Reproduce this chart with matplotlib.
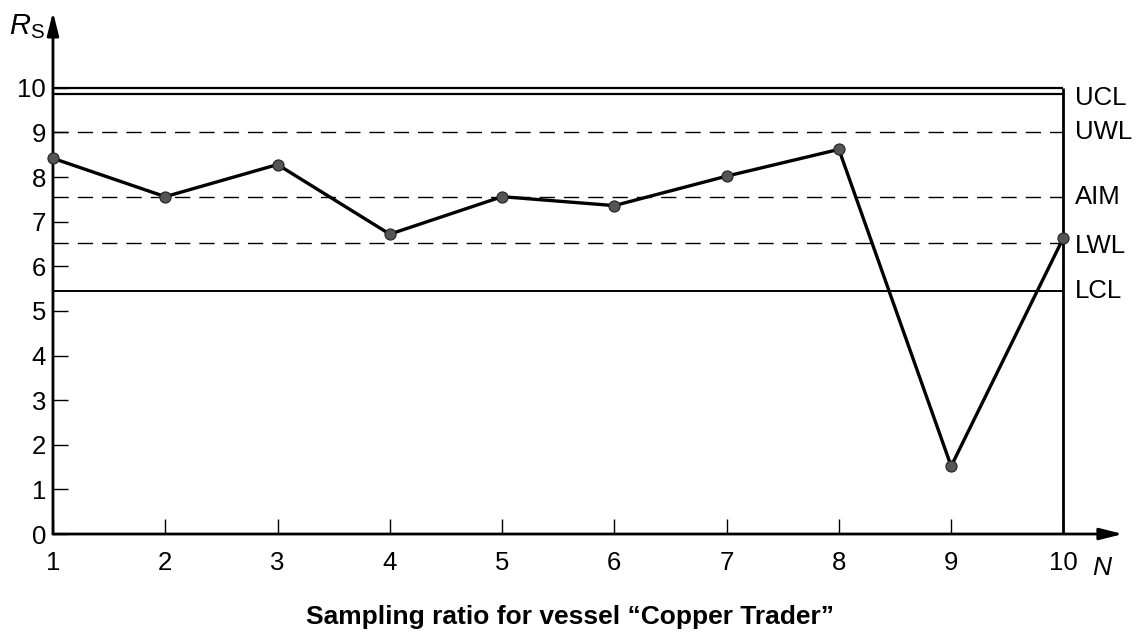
import matplotlib.pyplot as plt

plt.rcParams['font.family'] = ['Liberation Sans', 'DejaVu Sans']
plt.rcParams['mathtext.fontset'] = 'custom'
plt.rcParams['mathtext.rm'] = 'Liberation Sans'
plt.rcParams['mathtext.it'] = 'Liberation Sans:italic'

# data
samples = [1, 2, 3, 4, 5, 6, 7, 8, 9, 10]
ratio = [8.42, 7.56, 8.28, 6.72, 7.56, 7.36, 8.02, 8.62, 1.52, 6.64]

ucl = [10.0, 9.85]
uwl = 9.0
aim = 7.56
lwl = 6.52
lcl = 5.45
limit_names = ['UCL', 'UWL', 'AIM', 'LWL', 'LCL']
limit_label_y = [9.78, 9.0, 7.56, 6.45, 5.45]

fig = plt.figure(figsize=(11.39, 6.39), dpi=100)
ax = fig.add_axes([0.0465, 0.1643, 0.9394, 0.817])
ax.set_xlim(1, 10.53)
ax.set_ylim(0, 11.7)

for s in ['top', 'right', 'left', 'bottom']:
    ax.spines[s].set_visible(False)

# axes with arrow heads
ax.annotate('', xy=(0, 1), xytext=(0, 0), xycoords='axes fraction',
            arrowprops=dict(arrowstyle='-|>,head_length=1.4,head_width=0.35',
                            color='black', lw=2, shrinkA=0, shrinkB=0))
ax.annotate('', xy=(1, 0), xytext=(0, 0), xycoords='axes fraction',
            arrowprops=dict(arrowstyle='-|>,head_length=1.4,head_width=0.35',
                            color='black', lw=2, shrinkA=0, shrinkB=0))

# control limits
for v in ucl:
    ax.hlines(v, 1, 10, colors='black', lw=1.6)
ax.hlines(lcl, 1, 10, colors='black', lw=1.4)
for v in [uwl, aim, lwl]:
    ax.hlines(v, 1, 10, colors='black', lw=1.0, linestyles=(0, (11, 6.5)))
ax.vlines(10, 0, ucl[0], colors='black', lw=2)

ax.plot(samples, ratio, '-', color='black', lw=2.4, zorder=3)
ax.plot(samples, ratio, 'o', ms=8, mfc='#555555', mec='#222222', mew=0.8,
        zorder=4, clip_on=False)

for name, y in zip(limit_names, limit_label_y):
    ax.text(10.1, y, name, fontsize=18.5, va='center', ha='left')

ax.set_xticks(samples)
ax.set_yticks(range(0, 11))
ax.tick_params(axis='both', direction='in', length=11, width=1, labelsize=18.5)
ax.tick_params(axis='x', pad=12)
ax.tick_params(axis='y', pad=5)

ax.text(-0.008, 1.0, r'$R_{\mathrm{S}}$', transform=ax.transAxes,
        fontsize=21, ha='right', va='top')
ax.text(10.34, -0.5, 'N', fontstyle='italic', fontsize=19, ha='center', va='top')

fig.text(0.5, 0.015, 'Sampling ratio for vessel \u201cCopper Trader\u201d',
         fontsize=19, fontweight='bold', ha='center', va='bottom')

fig.savefig('out.png', dpi=100)
